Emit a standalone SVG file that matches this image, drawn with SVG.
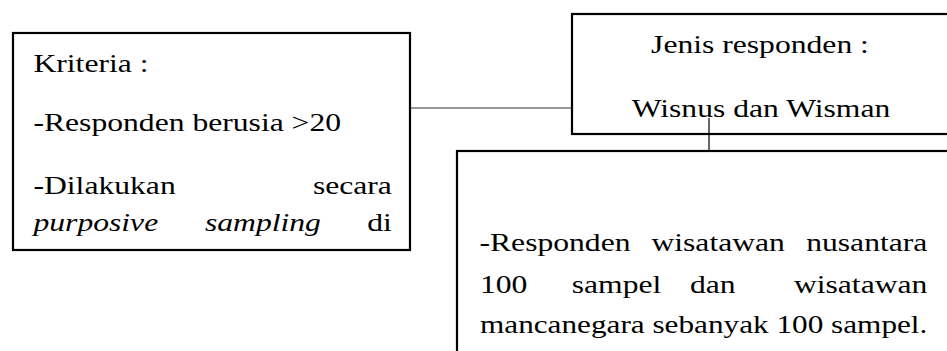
<svg xmlns="http://www.w3.org/2000/svg" width="947" height="351" viewBox="0 0 947 351">
<style>
.box{fill:#fff;stroke:#000;stroke-width:2.2}
.conn{stroke:#333;stroke-width:1.2;fill:none}
.tick{stroke:#000;stroke-width:1.2;fill:none}
.t{font-family:'Liberation Serif','Times New Roman','DejaVu Serif',serif;font-size:26px;fill:#000}
.it{font-style:italic}
.end{text-anchor:end}
.mid{text-anchor:middle}
</style>
<rect width="947" height="351" fill="#fff"/>
<g id="connectors">
<line class="conn" x1="411" y1="108" x2="572" y2="108"/>
</g>
<g id="node-kriteria">
<rect class="box" x="13" y="33" width="397" height="217"/>
<g class="t" font-family="Liberation Serif, serif" transform="scale(1.217,1)">
<text x="27.5" y="72">Kriteria :</text>
<text x="27.5" y="131">-Responden berusia &gt;20</text>
<text x="27.5" y="194">-Dilakukan</text>
<text class="end" x="322" y="194">secara</text>
<text class="it" x="27.5" y="231">purposive</text>
<text class="it" x="168.4" y="231">sampling</text>
<text class="end" x="322" y="231">di</text>
</g>
</g>
<g id="node-jenis">
<rect class="box" x="572" y="14" width="390" height="120"/>
<g class="t" font-family="Liberation Serif, serif" transform="scale(1.217,1)">
<text class="mid" x="624.5" y="53">Jenis responden :</text>
<text class="mid" x="625.3" y="117">Wisnus dan Wisman</text>
</g>
</g>
<g id="node-sampel">
<rect class="box" x="457" y="151" width="500" height="220"/>
<g class="t" font-family="Liberation Serif, serif" transform="scale(1.217,1)">
<text x="394" y="251">-Responden</text>
<text x="535.3" y="251">wisatawan</text>
<text class="end" x="762" y="251">nusantara</text>
<text x="394.4" y="293">100</text>
<text x="469.8" y="293">sampel</text>
<text x="567" y="293">dan</text>
<text class="end" x="762" y="293">wisatawan</text>
<text x="394.4" y="333" textLength="367.6" lengthAdjust="spacingAndGlyphs">mancanegara sebanyak 100 sampel.</text>
</g>
</g>
<g id="connectors-2">
<line class="tick" x1="709" y1="118" x2="709" y2="151"/>
</g>
</svg>
